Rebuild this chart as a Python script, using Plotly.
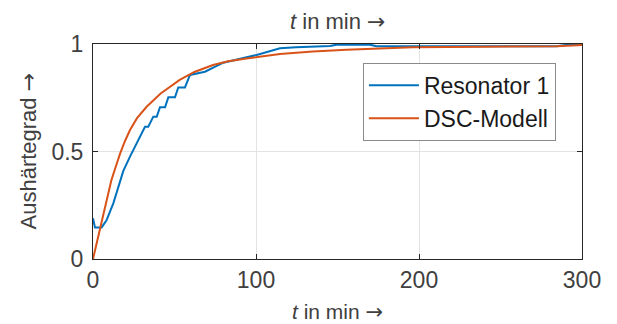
import plotly.graph_objects as go

# Resonator 1 (measured)
t_res = [0, 1.2, 5.3, 8.3, 12.5, 16.6, 18.6, 22.7, 28.8, 31.9, 33.9, 37.0, 39.1, 41.1, 44.2,
         46.2, 50.3, 52.3, 56.4, 59.5, 68.7, 79.9, 100.4, 114.7, 124.5, 145.4, 149.5, 169.9,
         174.0, 284.5, 294.5, 300]
y_res = [0.19, 0.147, 0.147, 0.18, 0.26, 0.367, 0.41, 0.476, 0.569, 0.615, 0.615, 0.662,
         0.662, 0.706, 0.706, 0.752, 0.752, 0.798, 0.798, 0.856, 0.871, 0.913, 0.949, 0.98,
         0.985, 0.991, 0.997, 0.997, 0.99, 0.99, 1.0, 1.0]

# DSC-Modell
t_dsc = [0, 3.1, 6.2, 9.3, 11.3, 13.3, 16.6, 19.7, 22.7, 27.0, 32.9, 41.5, 53.2, 62.2, 73.6,
         83.0, 94.1, 114.7, 134.8, 155.5, 196.3, 238.5, 284.5, 300]
y_dsc = [0, 0.1, 0.2, 0.3, 0.367, 0.414, 0.49, 0.55, 0.6, 0.655, 0.708, 0.77, 0.833, 0.87,
         0.902, 0.92, 0.933, 0.953, 0.965, 0.973, 0.985, 0.987, 0.99, 0.995]

x_ticks = [0, 100, 200, 300]
y_ticks = [0, 0.5, 1]
y_ticklabels = ["0", "0.5", "1"]

FONT = "Liberation Sans, Arial, Helvetica, sans-serif"
AX = "#262626"
ARROW = '<span style="font-family:DejaVu Sans">→</span>'

fig = go.Figure()
fig.add_trace(go.Scatter(x=t_res, y=y_res, mode="lines", name="Resonator 1",
                         line=dict(color="#0072BD", width=2)))
fig.add_trace(go.Scatter(x=t_dsc, y=y_dsc, mode="lines", name="DSC-Modell",
                         line=dict(color="#D95319", width=2)))

# the page body adds an 8px offset, margins compensate for it
fig.update_layout(
    width=617, height=324,
    margin=dict(l=85, r=43, t=36, b=73),
    paper_bgcolor="white", plot_bgcolor="white",
    font=dict(family=FONT, size=23, color=AX),
    showlegend=True,
    legend=dict(x=0.552, y=0.912, xanchor="left", yanchor="top",
                bgcolor="white", bordercolor="#8a8a8a", borderwidth=1,
                itemwidth=50,
                font=dict(size=23, color="#1a1a1a"), tracegroupgap=0),
    xaxis=dict(range=[0, 300], tickvals=x_ticks, showgrid=True, gridcolor="#e3e3e3",
               showline=True, linecolor=AX, linewidth=1, mirror="ticks",
               ticks="inside", ticklen=5, tickcolor=AX, zeroline=False,
               automargin=False, ticklabeloverflow="allow", ticklabelstandoff=0,
               title=dict(text=""),
               tickfont=dict(size=23, color="#404040")),
    yaxis=dict(range=[0, 1], tickvals=y_ticks, ticktext=y_ticklabels, showgrid=True,
               gridcolor="#e3e3e3", showline=True, linecolor=AX, linewidth=1,
               mirror="ticks", ticks="inside", ticklen=5, tickcolor=AX, zeroline=False,
               automargin=False, ticklabelstandoff=4,
               title=dict(text=""),
               tickfont=dict(size=23, color="#404040")),
    annotations=[
        dict(text="<i>t</i> in min " + ARROW, xref="paper", yref="paper",
             x=0.5, y=1, yshift=8, xanchor="center", yanchor="bottom",
             showarrow=False, font=dict(size=22, color="#404040")),
        dict(text="<i>t</i> in min " + ARROW, xref="paper", yref="paper",
             x=0.5, y=0, yshift=-40, xanchor="center", yanchor="top",
             showarrow=False, borderpad=0, font=dict(size=21, color="#404040")),
        dict(text="Aushärtegrad " + ARROW, xref="paper", yref="paper",
             x=0, y=0.5, xshift=-65, xanchor="center", yanchor="middle",
             textangle=-90, showarrow=False, font=dict(size=22, color="#404040")),
    ],
)

fig.write_html("out.html")
